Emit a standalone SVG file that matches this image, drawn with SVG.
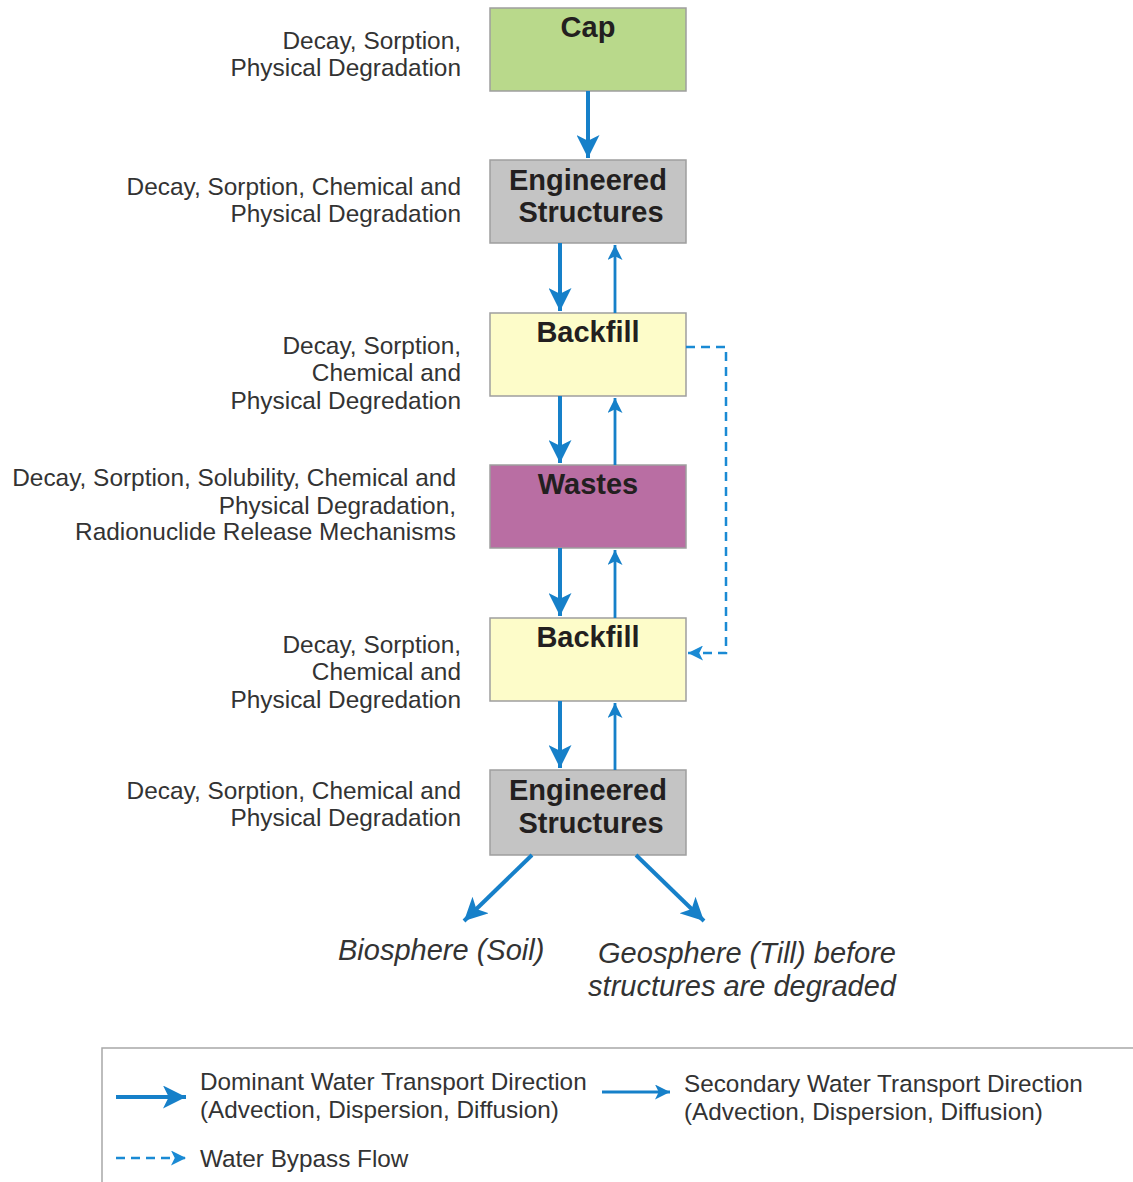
<svg xmlns="http://www.w3.org/2000/svg" width="1133" height="1182" viewBox="0 0 1133 1182">
  <defs>
    <style>
      .box { stroke: #9e9e9e; stroke-width: 1.5; }
      .title { font-family: "Liberation Sans", Arial, sans-serif; font-weight: bold; font-size: 29px; fill: #231f20; text-anchor: middle; }
      .note { font-family: "Liberation Sans", Arial, sans-serif; font-size: 24.4px; fill: #333333; text-anchor: end; }
      .out { font-family: "Liberation Sans", Arial, sans-serif; font-style: italic; font-size: 29px; fill: #333333; }
      .leg { font-family: "Liberation Sans", Arial, sans-serif; font-size: 24.3px; fill: #333333; }
      .dom { stroke: #1680c9; stroke-width: 4; fill: none; }
      .sec { stroke: #1680c9; stroke-width: 2.8; fill: none; }
      .byp { stroke: #1a8ad4; stroke-width: 2.5; fill: none; stroke-dasharray: 9 6; }
    </style>
    <marker id="headDom" viewBox="0 0 10 10" refX="10" refY="5" markerUnits="userSpaceOnUse" markerWidth="24" markerHeight="23" orient="auto">
      <path d="M0,0 L10,5 L0,10 L2.5,5 Z" fill="#1680c9"/>
    </marker>
    <marker id="headSec" viewBox="0 0 10 10" refX="10" refY="5" markerUnits="userSpaceOnUse" markerWidth="16" markerHeight="15" orient="auto">
      <path d="M0,0 L10,5 L0,10 L2.5,5 Z" fill="#1680c9"/>
    </marker>
    <marker id="headByp" viewBox="0 0 10 10" refX="10" refY="5" markerUnits="userSpaceOnUse" markerWidth="16" markerHeight="15" orient="auto">
      <path d="M0,0 L10,5 L0,10 L2.5,5 Z" fill="#1a8ad4"/>
    </marker>
  </defs>

  <rect width="1133" height="1182" fill="#ffffff"/>

  <!-- barrier layers -->
  <g id="cap">
    <rect class="box" x="490" y="8" width="196" height="83" fill="#b9d98b"/>
    <text class="title" x="588" y="37">Cap</text>
  </g>
  <g id="engineered-structures-upper">
    <rect class="box" x="490" y="160" width="196" height="83" fill="#c4c4c4"/>
    <text class="title" x="588" y="190">Engineered</text>
    <text class="title" x="591" y="222">Structures</text>
  </g>
  <g id="backfill-upper">
    <rect class="box" x="490" y="313" width="196" height="83" fill="#fdfcc9"/>
    <text class="title" x="588" y="342">Backfill</text>
  </g>
  <g id="wastes">
    <rect class="box" x="490" y="465" width="196" height="83" fill="#b96ea3"/>
    <text class="title" x="588" y="494">Wastes</text>
  </g>
  <g id="backfill-lower">
    <rect class="box" x="490" y="618" width="196" height="83" fill="#fdfcc9"/>
    <text class="title" x="588" y="647">Backfill</text>
  </g>
  <g id="engineered-structures-lower">
    <rect class="box" x="490" y="770" width="196" height="85" fill="#c4c4c4"/>
    <text class="title" x="588" y="800">Engineered</text>
    <text class="title" x="591" y="833">Structures</text>
  </g>

  <!-- processes acting in each layer -->
  <g id="processes">
    <text class="note" x="461" y="49">Decay, Sorption,</text>
    <text class="note" x="461" y="76">Physical Degradation</text>
    <text class="note" x="461" y="195">Decay, Sorption, Chemical and</text>
    <text class="note" x="461" y="222">Physical Degradation</text>
    <text class="note" x="461" y="354">Decay, Sorption,</text>
    <text class="note" x="461" y="381">Chemical and</text>
    <text class="note" x="461" y="409">Physical Degredation</text>
    <text class="note" x="456" y="486">Decay, Sorption, Solubility, Chemical and</text>
    <text class="note" x="456" y="514">Physical Degradation,</text>
    <text class="note" x="456" y="540">Radionuclide Release Mechanisms</text>
    <text class="note" x="461" y="653">Decay, Sorption,</text>
    <text class="note" x="461" y="680">Chemical and</text>
    <text class="note" x="461" y="708">Physical Degredation</text>
    <text class="note" x="461" y="799">Decay, Sorption, Chemical and</text>
    <text class="note" x="461" y="826">Physical Degradation</text>
  </g>

  <!-- receptors -->
  <g id="biosphere">
    <text class="out" x="338" y="960">Biosphere (Soil)</text>
  </g>
  <g id="geosphere">
    <text class="out" x="896" y="963" text-anchor="end">Geosphere (Till) before</text>
    <text class="out" x="896" y="996" text-anchor="end">structures are degraded</text>
  </g>

  <!-- water transport -->
  <g id="connectors">
    <line class="dom" x1="588" y1="91" x2="588" y2="158" marker-end="url(#headDom)"/>
    <line class="dom" x1="560" y1="243" x2="560" y2="311" marker-end="url(#headDom)"/>
    <line class="sec" x1="615" y1="313" x2="615" y2="245" marker-end="url(#headSec)"/>
    <line class="dom" x1="560" y1="396" x2="560" y2="463" marker-end="url(#headDom)"/>
    <line class="sec" x1="615" y1="465" x2="615" y2="398" marker-end="url(#headSec)"/>
    <line class="dom" x1="560" y1="548" x2="560" y2="616" marker-end="url(#headDom)"/>
    <line class="sec" x1="615" y1="618" x2="615" y2="550" marker-end="url(#headSec)"/>
    <line class="dom" x1="560" y1="701" x2="560" y2="768" marker-end="url(#headDom)"/>
    <line class="sec" x1="615" y1="770" x2="615" y2="703" marker-end="url(#headSec)"/>
    <polyline class="byp" points="686,347 726,347 726,653 688,653" marker-end="url(#headByp)"/>
    <line class="dom" x1="532" y1="855" x2="464" y2="921" marker-end="url(#headDom)"/>
    <line class="dom" x1="636" y1="855" x2="704" y2="921" marker-end="url(#headDom)"/>
  </g>

  <!-- key -->
  <g id="legend">
    <rect x="102" y="1048" width="1040" height="145" fill="#ffffff" stroke="#a8a8a8" stroke-width="1.5"/>
    <line class="dom" x1="116" y1="1097" x2="186" y2="1097" marker-end="url(#headDom)"/>
    <text class="leg" x="200" y="1090">Dominant Water Transport Direction</text>
    <text class="leg" x="200" y="1118">(Advection, Dispersion, Diffusion)</text>
    <line class="sec" x1="602" y1="1092" x2="670" y2="1092" marker-end="url(#headSec)"/>
    <text class="leg" x="684" y="1092">Secondary Water Transport Direction</text>
    <text class="leg" x="684" y="1120">(Advection, Dispersion, Diffusion)</text>
    <line class="byp" x1="116" y1="1158" x2="186" y2="1158" marker-end="url(#headByp)"/>
    <text class="leg" x="200" y="1167">Water Bypass Flow</text>
  </g>
</svg>
